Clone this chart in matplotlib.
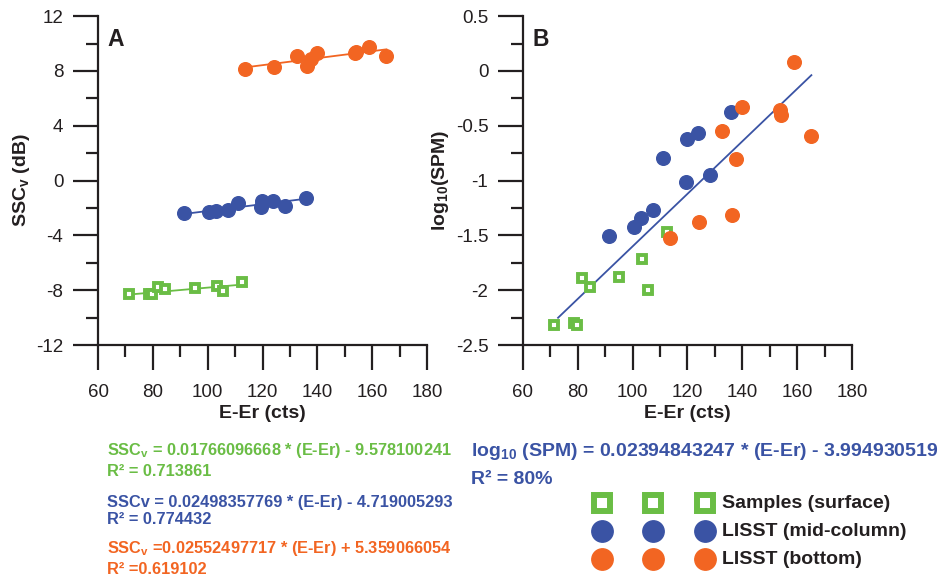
import matplotlib.pyplot as plt
from matplotlib.ticker import MultipleLocator

plt.rcParams["font.family"] = ["Liberation Sans", "DejaVu Sans"]
plt.rcParams["mathtext.fontset"] = "custom"
plt.rcParams["mathtext.rm"] = "Liberation Sans"
plt.rcParams["mathtext.bf"] = "Liberation Sans:bold"

GREEN = "#6abd45"
BLUE = "#3a53a4"
ORANGE = "#f26522"
INK = "#231f20"

# Samples (surface)
surf_x = [71.2, 78.5, 79.6, 81.7, 84.6, 95.2, 103.4, 105.5, 112.5]
surf_ssc = [-8.30, -8.30, -8.27, -7.79, -7.94, -7.82, -7.67, -8.04, -7.43]
surf_spm = [-2.32, -2.30, -2.32, -1.89, -1.97, -1.88, -1.72, -2.00, -1.47]

# LISST (mid-column)
mid_x = [91.2, 100.6, 103.2, 107.5, 111.0, 119.5, 119.8, 123.9, 128.2, 135.8]
mid_ssc = [-2.39, -2.32, -2.20, -2.15, -1.66, -1.91, -1.47, -1.47, -1.84, -1.25]
mid_spm = [-1.51, -1.42, -1.34, -1.27, -0.79, -1.01, -0.625, -0.57, -0.95, -0.37]

# LISST (bottom)
bot_x = [113.7, 124.1, 132.7, 136.3, 137.6, 140.0, 153.7, 154.2, 159.0, 165.2]
bot_ssc = [8.13, 8.30, 9.08, 8.38, 8.84, 9.33, 9.33, 9.36, 9.72, 9.08]
bot_spm = [-1.52, -1.375, -0.55, -1.31, -0.80, -0.33, -0.36, -0.40, 0.083, -0.59]

# regression coefficients (slope, intercept)
fit_surf = (0.01766096668, -9.578100241)
fit_mid = (0.02498357769, -4.719005293)
fit_bot = (0.02552497717, 5.359066054)
fit_spm = (0.02394843247, -3.994930519)
spm_line_x = [72.8, 165.2]


def style_axes(ax, ylim, ymaj, ymin):
    ax.set_xlim(60, 180)
    ax.set_ylim(*ylim)
    ax.xaxis.set_major_locator(MultipleLocator(20))
    ax.xaxis.set_minor_locator(MultipleLocator(10))
    ax.yaxis.set_major_locator(MultipleLocator(ymaj))
    ax.yaxis.set_minor_locator(MultipleLocator(ymin))
    ax.yaxis.set_major_formatter(plt.FuncFormatter(lambda v, p: f"{v:g}"))
    for s in ["top", "right"]:
        ax.spines[s].set_visible(False)
    for s in ["left", "bottom"]:
        ax.spines[s].set_color(INK)
        ax.spines[s].set_linewidth(1.6)
    ax.tick_params(which="major", direction="out", length=18, width=1.6,
                   color=INK, labelsize=13.5, pad=7, labelcolor=INK)
    ax.tick_params(which="minor", direction="out", length=8.6, width=1.6, color=INK)
    ax.tick_params(axis="x", which="major", pad=10)
    ax.set_xlabel("E-Er (cts)", fontsize=14, fontweight="bold", color=INK, labelpad=3)
    ax.patch.set_alpha(0)


def fit_line(ax, xs, fit, color):
    lo, hi = min(xs), max(xs)
    ax.plot([lo, hi], [fit[0] * lo + fit[1], fit[0] * hi + fit[1]],
            color=color, lw=1.3, zorder=2)


sq = dict(marker="s", ls="none", ms=5.7, mfc="white", mec=GREEN, mew=2.8, zorder=3)
dot = dict(marker="o", ls="none", ms=9.8, zorder=3)

fig = plt.figure(figsize=(9.5, 5.78), dpi=100)

# ---- panel A
axA = fig.add_axes([0.1032, 0.4031, 0.3463, 0.569])
style_axes(axA, (-12, 12), 4, 2)
fit_line(axA, surf_x, fit_surf, GREEN)
fit_line(axA, mid_x, fit_mid, BLUE)
fit_line(axA, bot_x, fit_bot, ORANGE)
axA.plot(surf_x, surf_ssc, **sq)
axA.plot(mid_x, mid_ssc, color=BLUE, **dot)
axA.plot(bot_x, bot_ssc, color=ORANGE, **dot)
axA.set_ylabel(r"SSC$_\mathbf{v}$ (dB)", fontsize=14, fontweight="bold",
               color=INK, labelpad=3)
axA.text(0.03, 0.965, "A", transform=axA.transAxes, fontsize=16.5,
         fontweight="bold", color=INK, va="top")

# ---- panel B
axB = fig.add_axes([0.5505, 0.4031, 0.3463, 0.569])
style_axes(axB, (-2.5, 0.5), 0.5, 0.25)
axB.plot(spm_line_x, [fit_spm[0] * x + fit_spm[1] for x in spm_line_x],
         color=BLUE, lw=1.3, zorder=2)
axB.plot(surf_x, surf_spm, **sq)
axB.plot(mid_x, mid_spm, color=BLUE, **dot)
axB.plot(bot_x, bot_spm, color=ORANGE, **dot)
axB.set_ylabel(r"log$_\mathbf{10}$(SPM)", fontsize=14, fontweight="bold",
               color=INK, labelpad=3)
axB.text(0.03, 0.965, "B", transform=axB.transAxes, fontsize=16.5,
         fontweight="bold", color=INK, va="top")

# ---- equations, panel A
eqs = [
    (r"SSC$_\mathbf{v}$ = 0.01766096668 * (E-Er) - 9.578100241", "R² = 0.713861", GREEN, 450, 471),
    ("SSCv = 0.02498357769 * (E-Er) - 4.719005293", "R² = 0.774432", BLUE, 502, 520),
    (r"SSC$_\mathbf{v}$ =0.02552497717 * (E-Er) + 5.359066054", "R² =0.619102", ORANGE, 548, 570),
]
for line1, line2, col, y1, y2 in eqs:
    fig.text(107 / 950, 1 - y1 / 578, line1, fontsize=11.8, fontweight="bold",
             color=col, va="center")
    fig.text(107 / 950, 1 - y2 / 578, line2, fontsize=11.8, fontweight="bold",
             color=col, va="center")

# ---- equation, panel B
fig.text(471 / 950, 1 - 452 / 578,
         r"log$_\mathbf{10}$ (SPM) = 0.02394843247 * (E-Er) - 3.994930519",
         fontsize=14, fontweight="bold", color=BLUE, va="center")
fig.text(471 / 950, 1 - 479 / 578, "R² = 80%", fontsize=14, fontweight="bold",
         color=BLUE, va="center")

# ---- legend
leg_labels = ["Samples (surface)", "LISST (mid-column)", "LISST (bottom)"]
leg_rows = [503, 531, 559]
leg_cols = [602, 653, 705]
for i, (lab, ypx) in enumerate(zip(leg_labels, leg_rows)):
    for xpx in leg_cols:
        if i == 0:
            fig.lines.append(plt.Line2D([xpx / 950], [1 - ypx / 578], transform=fig.transFigure,
                                        marker="s", ls="none", ms=11.3, mfc="white",
                                        mec=GREEN, mew=4.3))
        else:
            col = BLUE if i == 1 else ORANGE
            fig.lines.append(plt.Line2D([xpx / 950], [1 - ypx / 578], transform=fig.transFigure,
                                        marker="o", ls="none", ms=15.4, color=col))
    fig.text(722 / 950, 1 - ypx / 578, lab, fontsize=14, fontweight="bold",
             color=INK, va="center")

fig.savefig("out.png", dpi=100, facecolor="white")
